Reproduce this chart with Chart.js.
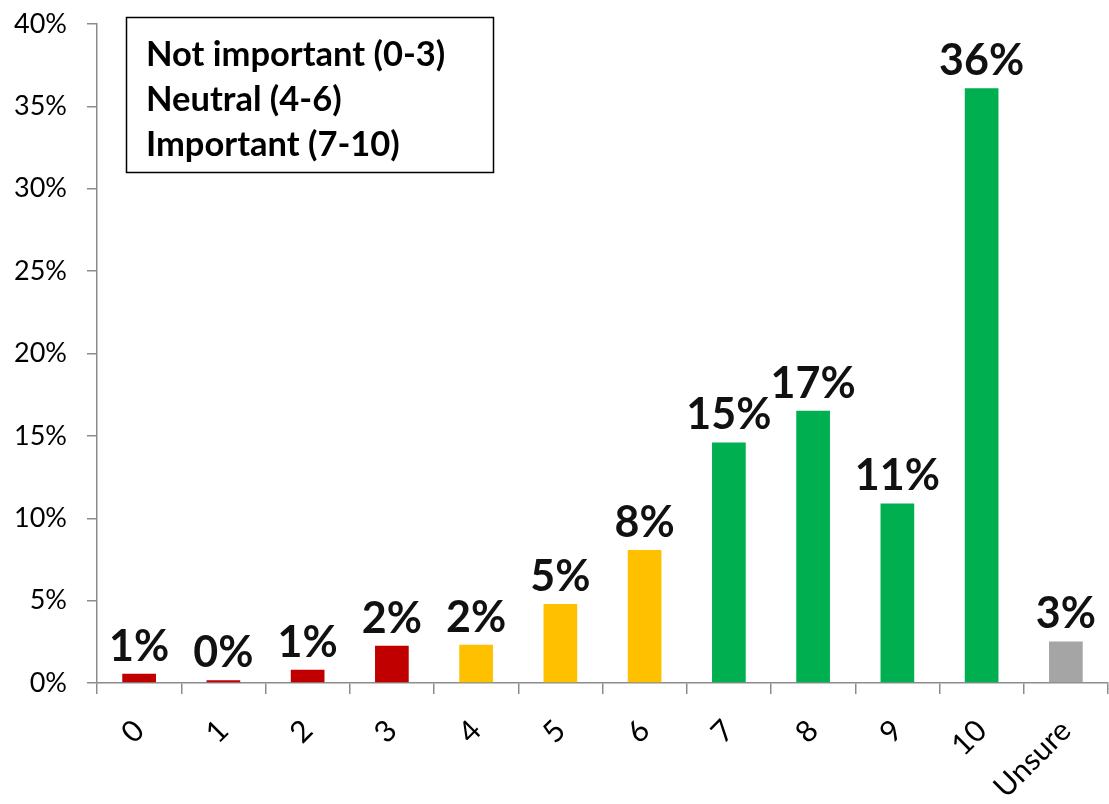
<!DOCTYPE html>
<html>
<head>
<meta charset="utf-8">
<style>
  html, body { margin: 0; padding: 0; background: #ffffff; }
  #wrap { width: 1109px; height: 804px; }
</style>
<script src="https://cdn.jsdelivr.net/npm/chart.js@4/dist/chart.umd.min.js"></script>
</head>
<body>
<div id="wrap"><canvas id="c" width="1109" height="804"></canvas></div>
<script>
const categories = ['0', '1', '2', '3', '4', '5', '6', '7', '8', '9', '10', 'Unsure'];
const values = [0.56, 0.16, 0.81, 2.26, 2.32, 4.8, 8.07, 14.6, 16.52, 10.9, 36.1, 2.52];
const barColors = ['#C00000', '#C00000', '#C00000', '#C00000',
                   '#FFC000', '#FFC000', '#FFC000',
                   '#00B050', '#00B050', '#00B050', '#00B050',
                   '#A5A5A5'];
const legendLines = ['Not important (0-3)', 'Neutral (4-6)', 'Important (7-10)'];
const yMax = 40;
const yStep = 5;

const FONT = 'Lato, "Open Sans", "DejaVu Sans", sans-serif';
const AXIS = '#8c8c8c';

const valueLabels = {
  id: 'valueLabels',
  afterDatasetsDraw(chart) {
    const ctx = chart.ctx;
    const meta = chart.getDatasetMeta(0);
    ctx.save();
    ctx.font = 'bold 43px ' + FONT;
    ctx.fillStyle = '#111111';
    ctx.textAlign = 'center';
    ctx.textBaseline = 'alphabetic';
    meta.data.forEach((bar, i) => {
      ctx.fillText(Math.round(values[i]) + '%', bar.x, bar.y - 13);
    });
    ctx.restore();
  }
};

const textBox = {
  id: 'textBox',
  afterDraw(chart) {
    const ctx = chart.ctx;
    ctx.save();
    ctx.strokeStyle = '#000000';
    ctx.lineWidth = 1.5;
    ctx.strokeRect(126.5, 17.5, 367, 155);
    ctx.font = 'bold 34.5px ' + FONT;
    ctx.fillStyle = '#000000';
    ctx.textAlign = 'left';
    ctx.textBaseline = 'alphabetic';
    legendLines.forEach((t, i) => {
      ctx.fillText(t, 146, 66 + i * 45);
    });
    ctx.restore();
  }
};

new Chart(document.getElementById('c'), {
  type: 'bar',
  data: {
    labels: categories,
    datasets: [{
      data: values,
      backgroundColor: barColors,
      borderWidth: 0,
      categoryPercentage: 1.0,
      barPercentage: 0.40
    }]
  },
  options: {
    responsive: false,
    animation: false,
    devicePixelRatio: 1,
    layout: { padding: { top: 24, right: 1, left: 0, bottom: 0 } },
    plugins: {
      legend: { display: false },
      tooltip: { enabled: false }
    },
    scales: {
      x: {
        offset: true,
        grid: {
          display: true,
          offset: true,
          drawOnChartArea: false,
          drawTicks: true,
          tickLength: 11,
          color: AXIS,
          lineWidth: 1.5
        },
        border: { display: true, color: AXIS, width: 1.5 },
        ticks: {
          color: '#000000',
          font: { family: FONT, size: 30 },
          minRotation: 45,
          maxRotation: 45,
          padding: 19,
          autoSkip: false
        },
        afterFit(scale) {
          scale.height = 121;
          scale.paddingLeft = 0;
          scale.paddingRight = 0;
        }
      },
      y: {
        min: 0,
        max: yMax,
        grid: {
          display: true,
          drawOnChartArea: false,
          drawTicks: true,
          tickLength: 10,
          color: AXIS,
          lineWidth: 1.5
        },
        border: { display: true, color: AXIS, width: 1.5 },
        ticks: {
          stepSize: yStep,
          color: '#000000',
          font: { family: FONT, size: 27 },
          padding: 20,
          callback: (v) => v + '%'
        },
        afterFit(scale) {
          scale.width = 97;
          scale.paddingTop = 0;
          scale.paddingBottom = 0;
        }
      }
    }
  },
  plugins: [valueLabels, textBox]
});
</script>
</body>
</html>
